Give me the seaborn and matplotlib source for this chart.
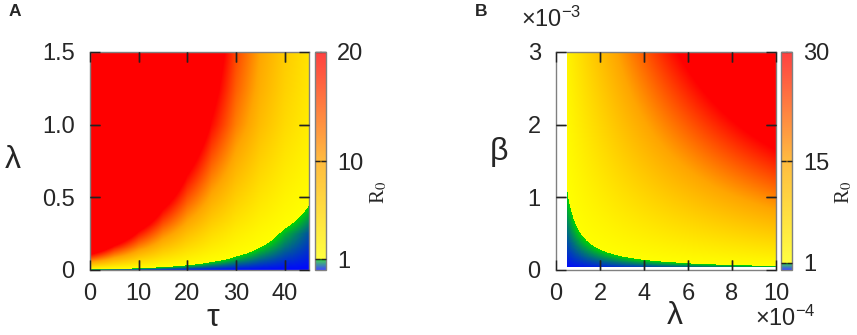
import numpy as np
import matplotlib
matplotlib.use('Agg')
import matplotlib.pyplot as plt
import matplotlib.colors as mcolors
import matplotlib.patches as mpatches
import matplotlib.ticker as mticker
from matplotlib.path import Path
import seaborn as sns

# Panel A: R0, rows = lambda, columns = tau
tau_a = [0, 5, 10, 15, 20, 25, 30, 35, 40, 45]
lam_a = [0, 0.25, 0.5, 0.75, 1.0, 1.25, 1.5]
r0_a = [
    [0, 0, 0, 0, 0, 0, 0, 0, 0, 0],
    [46.8, 29.7, 18.8, 11.8, 7.4, 4.5, 2.7, 1.6, 0.84, 0.37],
    [94.1, 59.8, 38.0, 24.1, 15.2, 9.5, 5.9, 3.6, 2.13, 1.2],
    [141.3, 89.9, 57.2, 36.3, 23.0, 14.5, 9.1, 5.6, 3.42, 2.02],
    [188.6, 120.1, 76.4, 48.6, 30.8, 19.5, 12.3, 7.65, 4.71, 2.84],
    [219.0, 139.7, 88.9, 56.5, 35.9, 22.7, 14.3, 9.0, 5.6, 3.4],
    [240.6, 153.3, 97.5, 62.1, 39.4, 25.0, 15.8, 9.95, 6.2, 3.8],
]

# Panel B: R0, rows = beta, columns = lambda
lam_b = [0.5e-4, 2.4e-4, 4.3e-4, 6.2e-4, 8.1e-4, 10.0e-4]
beta_b = [0.04e-3, 0.78e-3, 1.52e-3, 2.26e-3, 3.0e-3]
r0_b = [
    [0.036, 0.17, 0.31, 0.45, 0.59, 0.73],
    [0.71, 3.40, 6.10, 8.79, 11.5, 14.2],
    [1.38, 6.63, 11.9, 17.1, 22.4, 27.6],
    [2.05, 9.86, 17.7, 25.5, 33.3, 41.1],
    [2.73, 13.1, 23.5, 33.8, 44.2, 54.5],
]

xticks_a = [0, 10, 20, 30, 40]
yticks_a = [0, 0.5, 1.0, 1.5]
xticks_b = [0, 2e-4, 4e-4, 6e-4, 8e-4, 10e-4]
yticks_b = [0, 1e-3, 2e-3, 3e-3]
cbar_ticks_a = [1, 10, 20]
cbar_ticks_b = [1, 15, 30]

sns.set_theme(style='ticks')
plt.rcParams['font.family'] = ['Liberation Sans', 'DejaVu Sans']
plt.rcParams['mathtext.fontset'] = 'custom'
plt.rcParams['mathtext.rm'] = 'Liberation Sans'
plt.rcParams['mathtext.it'] = 'Liberation Sans:italic'

FS = 17
GREEK = 23
SPINE = '#808080'
TICK = '#222222'
W, H = 857, 335


def make_cmap(vmax):
    one = 1.0 / vmax
    return mcolors.LinearSegmentedColormap.from_list(
        'r0', [(0, '#0008ff'), (one, '#00d400'), (one, '#ffff00'),
               (0.5, '#ffa500'), (1, '#ff0000')], N=1024)


def draw_map(ax, x, y, z, vmax, cmap):
    dx = x[1] - x[0]
    dy = y[1] - y[0]
    ext = [x[0] - dx / 2, x[-1] + dx / 2, y[0] - dy / 2, y[-1] + dy / 2]
    im = ax.imshow(np.array(z), origin='lower', extent=ext, aspect='auto',
                   cmap=cmap, vmin=0, vmax=vmax, interpolation='bilinear',
                   interpolation_stage='data', zorder=0)
    im.set_clip_path(mpatches.Rectangle((x[0], y[0]), x[-1] - x[0], y[-1] - y[0],
                                        transform=ax.transData))
    return im


def tick_patch(segments, transform):
    # tick marks as one path patch (drawn like the spines)
    verts, codes = [], []
    for p0, p1 in segments:
        verts += [p0, p1]
        codes += [Path.MOVETO, Path.LINETO]
    return mpatches.PathPatch(Path(verts, codes), fill=False, edgecolor=TICK,
                              linewidth=1, transform=transform, clip_on=False, zorder=6)


def style_axes(ax, xt, yt):
    ax.set_axisbelow(False)
    for s in ax.spines.values():
        s.set_color(SPINE)
        s.set_linewidth(1)
    ax.set_xticks(xt)
    ax.set_yticks(yt)
    ax.tick_params(direction='in', top=True, right=True, length=7.5, width=1,
                   color=TICK, labelsize=FS, pad=9)
    ax.tick_params(axis='y', pad=11)
    pos = ax.get_position()
    lx = 10 / (pos.width * W)
    ly = 10 / (pos.height * H)
    x0, x1 = ax.get_xlim()
    y0, y1 = ax.get_ylim()
    xs = [(v - x0) / (x1 - x0) for v in xt]
    ys = [(v - y0) / (y1 - y0) for v in yt]
    xs = [v for v in xs if 0.001 < v < 0.999]
    ys = [v for v in ys if 0.001 < v < 0.999]
    segs = []
    for v in xs:
        segs += [((v, 0), (v, ly)), ((v, 1 - ly), (v, 1))]
    for v in ys:
        segs += [((0, v), (lx, v)), ((1 - lx, v), (1, v))]
    ax.add_patch(tick_patch(segs, ax.transAxes))


def style_cbar(cb, ticks, vmax):
    cb.set_ticks(ticks)
    cb.outline.set_edgecolor(SPINE)
    cb.outline.set_linewidth(1)
    cb.ax.tick_params(direction='in', left=True, right=True, length=4, width=1,
                      color=TICK, labelsize=FS, pad=8)
    segs = []
    for t in ticks[:-1]:
        v = t / vmax
        segs += [((0, v), (0.45, v)), ((0.55, v), (1, v))]
    cb.ax.add_patch(tick_patch(segs, cb.ax.transAxes))


fig = plt.figure(figsize=(8.57, 3.35), dpi=100)

ax_a = fig.add_axes([90 / W, 65 / H, 219 / W, 218 / H])
cax_a = fig.add_axes([315 / W, 65 / H, 11 / W, 218 / H])
ax_b = fig.add_axes([556 / W, 65 / H, 220 / W, 218 / H])
cax_b = fig.add_axes([781 / W, 65 / H, 11 / W, 218 / H])

# --- panel A
cmap_a = make_cmap(20)
draw_map(ax_a, tau_a, lam_a, r0_a, 20, cmap_a)
ax_a.set_xlim(0, 45)
ax_a.set_ylim(0, 1.5)
style_axes(ax_a, xticks_a, yticks_a)
ax_a.yaxis.set_major_formatter(mticker.FuncFormatter(lambda v, p: '0' if v == 0 else f'{v:.1f}'))
ax_a.set_xlabel('τ', fontsize=GREEK, va='center')
ax_a.xaxis.set_label_coords((213 - 90) / 219, (270 - 318) / 218)
ax_a.set_ylabel('λ', fontsize=GREEK, rotation=0, ha='center', va='center')
ax_a.yaxis.set_label_coords((13 - 90) / 219, (270 - 160) / 218)

sm_a = plt.cm.ScalarMappable(norm=mcolors.Normalize(0, 20), cmap=cmap_a)
cb_a = fig.colorbar(sm_a, cax=cax_a, alpha=0.75)
cb_a.solids.set_rasterized(False)
style_cbar(cb_a, cbar_ticks_a, 20)
fig.text(379 / W, 1 - 192 / H, r'R$_0$', rotation=90, ha='center', va='center',
         fontsize=15, family='Liberation Serif', math_fontfamily='stix')

# --- panel B
cmap_b = make_cmap(30)
draw_map(ax_b, lam_b, beta_b, r0_b, 30, cmap_b)
ax_b.set_xlim(0, 10e-4)
ax_b.set_ylim(0, 3e-3)
style_axes(ax_b, xticks_b, yticks_b)
ax_b.xaxis.set_major_formatter(mticker.FuncFormatter(lambda v, p: f'{v * 1e4:.0f}'))
ax_b.yaxis.set_major_formatter(mticker.FuncFormatter(lambda v, p: f'{v * 1e3:.0f}'))
ax_b.set_xlabel('λ', fontsize=GREEK, va='center')
ax_b.xaxis.set_label_coords((675 - 556) / 220, (270 - 316) / 218)
ax_b.set_ylabel('β', fontsize=GREEK, rotation=0, ha='center', va='center')
ax_b.yaxis.set_label_coords((499 - 556) / 220, (270 - 152) / 218)
fig.text(521 / W, 1 - 19 / H, '×10$^{-3}$', fontsize=FS, ha='left', va='center')
fig.text(755 / W, 1 - 318 / H, '×10$^{-4}$', fontsize=FS, ha='left', va='center')

sm_b = plt.cm.ScalarMappable(norm=mcolors.Normalize(0, 30), cmap=cmap_b)
cb_b = fig.colorbar(sm_b, cax=cax_b, alpha=0.75)
cb_b.solids.set_rasterized(False)
style_cbar(cb_b, cbar_ticks_b, 30)
fig.text(844 / W, 1 - 192 / H, r'R$_0$', rotation=90, ha='center', va='center',
         fontsize=15, family='Liberation Serif', math_fontfamily='stix')

fig.text(9 / W, 1 - 12 / H, 'A', fontsize=12.5, fontweight='bold', ha='left', va='center')
fig.text(475 / W, 1 - 12 / H, 'B', fontsize=12.5, fontweight='bold', ha='left', va='center')

fig.savefig('out.png', dpi=100)
